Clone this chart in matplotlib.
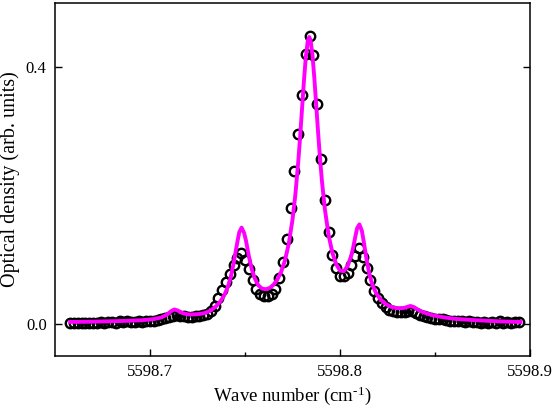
import matplotlib
matplotlib.use("Agg")
import matplotlib.pyplot as plt
from matplotlib.ticker import FixedLocator

plt.rcParams['font.family'] = ['Liberation Serif', 'DejaVu Serif']
plt.rcParams['mathtext.fontset'] = 'custom'
plt.rcParams['mathtext.rm'] = 'Liberation Serif'
plt.rcParams['mathtext.it'] = 'Liberation Serif:italic'

# measured data (open circles)
meas_wn = [
    5598.658, 5598.660, 5598.662, 5598.664, 5598.666, 5598.668, 5598.670, 5598.672, 5598.674, 5598.676,
    5598.678, 5598.680, 5598.682, 5598.684, 5598.686, 5598.688, 5598.690, 5598.692, 5598.694, 5598.696,
    5598.698, 5598.700, 5598.702, 5598.704, 5598.706, 5598.708, 5598.710, 5598.712, 5598.714, 5598.716,
    5598.718, 5598.720, 5598.722, 5598.724, 5598.726, 5598.728, 5598.730, 5598.732, 5598.734, 5598.736,
    5598.738, 5598.740, 5598.742, 5598.744, 5598.746, 5598.748, 5598.750, 5598.752, 5598.754, 5598.756,
    5598.758, 5598.760, 5598.762, 5598.764, 5598.766, 5598.768, 5598.770, 5598.772, 5598.774, 5598.776,
    5598.778, 5598.780, 5598.782, 5598.784, 5598.786, 5598.788, 5598.790, 5598.792, 5598.794, 5598.796,
    5598.798, 5598.800, 5598.802, 5598.804, 5598.806, 5598.808, 5598.810, 5598.812, 5598.814, 5598.816,
    5598.818, 5598.820, 5598.822, 5598.824, 5598.826, 5598.828, 5598.830, 5598.832, 5598.834, 5598.836,
    5598.838, 5598.840, 5598.842, 5598.844, 5598.846, 5598.848, 5598.850, 5598.852, 5598.854, 5598.856,
    5598.858, 5598.860, 5598.862, 5598.864, 5598.866, 5598.868, 5598.870, 5598.872, 5598.874, 5598.876,
    5598.878, 5598.880, 5598.882, 5598.884, 5598.886, 5598.888, 5598.890, 5598.892, 5598.894,
]
meas_od = [
    0.002, 0.001, 0.002, 0.001, 0.002, 0.002, 0.001, 0.002, 0.003, 0.002,
    0.003, 0.003, 0.002, 0.004, 0.003, 0.004, 0.003, 0.003, 0.004, 0.003,
    0.004, 0.005, 0.005, 0.006, 0.007, 0.009, 0.011, 0.013, 0.014, 0.013,
    0.012, 0.011, 0.011, 0.012, 0.013, 0.014, 0.016, 0.020, 0.028, 0.040,
    0.053, 0.066, 0.078, 0.091, 0.103, 0.111, 0.100, 0.086, 0.068, 0.054,
    0.046, 0.043, 0.043, 0.047, 0.055, 0.072, 0.097, 0.132, 0.180, 0.239,
    0.296, 0.357, 0.420, 0.449, 0.419, 0.343, 0.257, 0.193, 0.143, 0.108,
    0.087, 0.075, 0.074, 0.080, 0.092, 0.106, 0.118, 0.104, 0.087, 0.068,
    0.052, 0.040, 0.032, 0.026, 0.022, 0.020, 0.019, 0.019, 0.019, 0.020,
    0.020, 0.017, 0.014, 0.012, 0.010, 0.009, 0.008, 0.007, 0.007, 0.006,
    0.005, 0.005, 0.004, 0.004, 0.003, 0.004, 0.003, 0.003, 0.002, 0.003,
    0.002, 0.003, 0.002, 0.004, 0.002, 0.003, 0.002, 0.003, 0.003,
]

# fitted profile (magenta line)
fit_wn = [
    5598.658, 5598.668, 5598.678, 5598.688, 5598.696, 5598.702, 5598.706, 5598.709, 5598.711, 5598.7128,
    5598.7145, 5598.717, 5598.720, 5598.723, 5598.726, 5598.729, 5598.732, 5598.735, 5598.737, 5598.739,
    5598.741, 5598.7425, 5598.744, 5598.745, 5598.746, 5598.747, 5598.7482, 5598.7495, 5598.7505, 5598.752,
    5598.7535, 5598.755, 5598.757, 5598.759, 5598.761, 5598.763, 5598.765, 5598.767, 5598.769, 5598.771,
    5598.773, 5598.775, 5598.7765, 5598.778, 5598.779, 5598.780, 5598.781, 5598.782, 5598.783, 5598.7838,
    5598.7845, 5598.7855, 5598.7865, 5598.7875, 5598.7885, 5598.7895, 5598.7905, 5598.792, 5598.794, 5598.796,
    5598.798, 5598.800, 5598.802, 5598.804, 5598.806, 5598.807, 5598.808, 5598.809, 5598.8102, 5598.8115,
    5598.8125, 5598.814, 5598.8155, 5598.817, 5598.819, 5598.821, 5598.824, 5598.827, 5598.830, 5598.833,
    5598.835, 5598.837, 5598.839, 5598.841, 5598.844, 5598.848, 5598.853, 5598.860, 5598.870, 5598.880,
    5598.888, 5598.895,
]
fit_od = [
    0.0030, 0.0034, 0.0040, 0.0048, 0.0058, 0.0075, 0.0101, 0.0146, 0.0196, 0.0225,
    0.0210, 0.0170, 0.0148, 0.0148, 0.0155, 0.0170, 0.0210, 0.0280, 0.0350, 0.0440,
    0.0580, 0.0730, 0.0940, 0.1110, 0.1280, 0.1430, 0.1500, 0.1420, 0.1300, 0.1060,
    0.0860, 0.0720, 0.0600, 0.0550, 0.0540, 0.0560, 0.0610, 0.0690, 0.0810, 0.0985,
    0.1244, 0.1623, 0.2013, 0.2515, 0.2913, 0.3345, 0.3778, 0.4155, 0.4403, 0.4470,
    0.4421, 0.4191, 0.3827, 0.3401, 0.2970, 0.2571, 0.2222, 0.1795, 0.1382, 0.1105,
    0.0930, 0.0830, 0.0820, 0.0900, 0.1070, 0.1200, 0.1350, 0.1490, 0.1550, 0.1450,
    0.1280, 0.1000, 0.0770, 0.0610, 0.0480, 0.0390, 0.0310, 0.0265, 0.0245, 0.0245,
    0.0260, 0.0280, 0.0260, 0.0220, 0.0180, 0.0140, 0.0110, 0.0080, 0.0060, 0.0045,
    0.0035, 0.0030,
]

x_major = [5598.7, 5598.8, 5598.9]
x_major_labels = ['5598.7', '5598.8', '5598.9']
x_minor = [5598.75, 5598.85]
y_major = [0.0, 0.4]
y_major_labels = ['0.0', '0.4']

fig = plt.figure(figsize=(5.52, 4.09), dpi=100)
ax = fig.add_axes([0.0996, 0.1296, 0.8606, 0.8631])

ax.plot(meas_wn, meas_od, linestyle='none', marker='o', markersize=6.8,
        markerfacecolor='none', markeredgecolor='black', markeredgewidth=1.7, zorder=2)
ax.plot(fit_wn, fit_od, color='#ff00ff', linewidth=2.8, zorder=3)

ax.set_xlim(5598.65, 5598.9)
ax.set_ylim(-0.05, 0.5)

ax.xaxis.set_major_locator(FixedLocator(x_major))
ax.set_xticklabels(x_major_labels)
ax.xaxis.set_minor_locator(FixedLocator(x_minor))
ax.yaxis.set_major_locator(FixedLocator(y_major))
ax.set_yticklabels(y_major_labels)

ax.tick_params(axis='both', which='major', direction='in', length=5, width=1.0,
               labelsize=12, pad=6)
ax.tick_params(axis='both', which='minor', direction='in', length=3, width=1.0)
ax.tick_params(axis='y', which='both', right=True)
for s in ax.spines.values():
    s.set_linewidth(1.1)

ax.set_xlabel('Wave number (cm$^{\\text{-1}}$)', fontsize=13.5, labelpad=3)
ax.set_ylabel('Optical density (arb. units)', fontsize=14.5, labelpad=4)

fig.savefig('out.png', dpi=100)
